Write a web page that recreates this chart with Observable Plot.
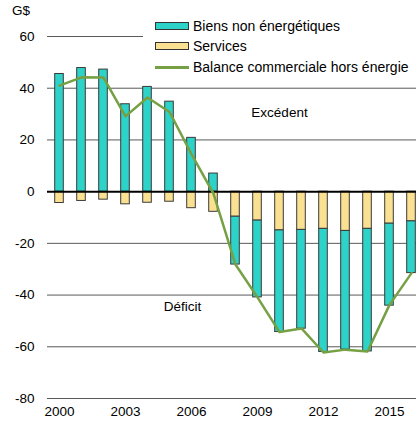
<!DOCTYPE html>
<html>
<head>
<meta charset="utf-8">
<script src="https://cdn.jsdelivr.net/npm/d3@7"></script>
<script src="https://cdn.jsdelivr.net/npm/@observablehq/plot@0.6"></script>
<style>
  html, body { margin: 0; padding: 0; background: #fff; }
  body { font-family: "Liberation Sans", Arial, sans-serif; }
  #wrap { position: relative; width: 416px; height: 424px; overflow: hidden; }
  .ov { position: absolute; font-size: 13.5px; color: #000; line-height: 1; white-space: nowrap; }
  #legend { position: absolute; left: 143px; top: 14px; width: 273px; height: 64px; background: #fff; }
  .item { position: absolute; left: 12px; height: 16px; display: flex; align-items: center; font-size: 14px; white-space: nowrap; }
  .sw { width: 32px; height: 6px; border: 1px solid #333; margin-right: 4px; box-sizing: content-box; flex: none; }
  .ln { width: 34px; height: 3px; background: #76A044; margin-right: 4px; flex: none; }
</style>
</head>
<body>
<div id="wrap">
  <div id="chart"></div>
  <div class="ov" style="left:12px; top:4px;">G$</div>
  <div id="legend">
    <div class="item" style="top:4px;"><div class="sw" style="background:#2DD3C9"></div>Biens non énergétiques</div>
    <div class="item" style="top:24px;"><div class="sw" style="background:#FAE091"></div>Services</div>
    <div class="item" style="top:45px;"><div class="ln"></div>Balance commerciale hors énergie</div>
  </div>
</div>
<script>
const years = [2000,2001,2002,2003,2004,2005,2006,2007,2008,2009,2010,2011,2012,2013,2014,2015,2016];
const biens = [45.5,47.8,47.2,33.8,40.5,34.8,20.8,7.0,-18.5,-29.7,-39.3,-38.2,-47.6,-45.9,-47.4,-31.7,-20.0];
const services = [-4.4,-3.6,-3.1,-4.9,-4.3,-3.9,-6.4,-7.8,-9.7,-11.2,-15.0,-14.8,-14.4,-15.2,-14.4,-12.4,-11.5];
const balance = [41.0,44.2,44.1,29.1,36.4,30.8,14.5,-0.8,-28.2,-40.9,-54.3,-52.9,-62.2,-61.1,-61.8,-43.8,-31.5];
const yTicks = [-80,-60,-40,-20,0,20,40,60];
const xTicks = [2000,2003,2006,2009,2012,2015];
const excedent = [{year: 2010, value: 30.6, label: "Excédent"}];
const deficit = [{year: 2006, value: -44.5, label: "Déficit"}];

const serviceBars = years.map((year, i) => ({year, y1: 0, y2: services[i]}));
const biensBars = years.map((year, i) => biens[i] >= 0
  ? {year, y1: 0, y2: biens[i]}
  : {year, y1: services[i], y2: services[i] + biens[i]});
const lineData = years.map((year, i) => ({year, value: balance[i]}));

const inset = 6.7;
const chart = Plot.plot({
  width: 416,
  height: 424,
  marginLeft: 47,
  marginRight: 0,
  marginTop: 36,
  marginBottom: 26,
  style: {fontFamily: '"Liberation Sans", Arial, sans-serif', fontSize: "13.5px", color: "#000", background: "#fff"},
  x: {type: "band", domain: years, range: [46.65, 422.35], padding: 0, ticks: xTicks, tickSize: 0, tickPadding: 8, tickFormat: d => String(d), label: null},
  y: {domain: [-80, 60], ticks: yTicks, tickSize: 0, tickPadding: 13, tickFormat: d => String(d), label: null},
  marks: [
    Plot.ruleY(yTicks.filter(d => d !== 0), {stroke: "#222", strokeWidth: 1, strokeOpacity: 0.75}),
    Plot.barY(serviceBars, {x: "year", y1: "y1", y2: "y2", fill: "#FAE091", stroke: "#3a3a3a", strokeWidth: 1, insetLeft: inset, insetRight: inset}),
    Plot.barY(biensBars, {x: "year", y1: "y1", y2: "y2", fill: "#2DD3C9", stroke: "#3a3a3a", strokeWidth: 1, insetLeft: inset, insetRight: inset}),
    Plot.ruleY([0], {stroke: "#000", strokeWidth: 2}),
    Plot.lineY(lineData, {x: "year", y: "value", stroke: "#76A044", strokeWidth: 2.5}),
    Plot.text(excedent, {x: "year", y: "value", text: "label", fontSize: 13.5, fill: "#000"}),
    Plot.text(deficit, {x: "year", y: "value", text: "label", dx: -9, fontSize: 13.5, fill: "#000"})
  ]
});
document.getElementById("chart").appendChild(chart);
</script>
</body>
</html>
